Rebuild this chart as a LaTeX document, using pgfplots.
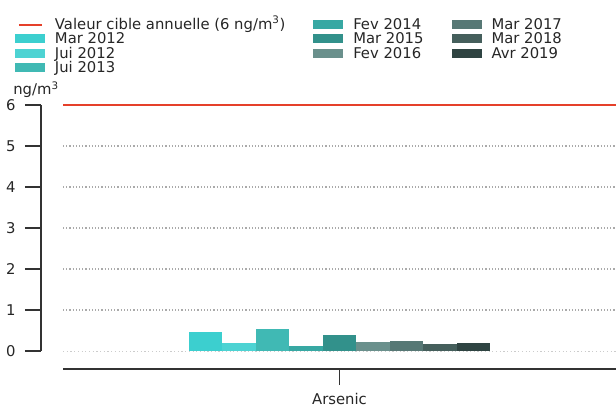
\documentclass[border=0pt]{standalone}
\usepackage{fontspec}
\setmainfont{DejaVu Sans}
\usepackage{pgfplots}
\pgfplotsset{compat=1.18}

\definecolor{axgray}{HTML}{333333}
\definecolor{txtgray}{HTML}{262626}
\definecolor{gridgray}{HTML}{AAAAAA}
\definecolor{cible}{HTML}{E5402A}
\definecolor{c1}{HTML}{3CCFCF}
\definecolor{c2}{HTML}{4DD3D3}
\definecolor{c3}{HTML}{40B9B4}
\definecolor{c4}{HTML}{37A8A3}
\definecolor{c5}{HTML}{32918B}
\definecolor{c6}{HTML}{6A908C}
\definecolor{c7}{HTML}{577875}
\definecolor{c8}{HTML}{455F5C}
\definecolor{c9}{HTML}{2F4442}

\pgfplotsset{
  boxleg/.style={legend image code/.code={
    \fill[##1, draw=none] (0pt,-3.5pt) rectangle (30pt,5.5pt);}},
  lineleg/.style={legend image code/.code={
    \draw[##1] (4pt,0pt) -- (27pt,0pt);}},
}

\begin{document}
\begin{tikzpicture}[x=1pt,y=1pt,font=\fontsize{14.8}{17}\selectfont]
\useasboundingbox (0,0) rectangle (616,408);

% frame: x axis, grid, target line
\begin{axis}[
  at={(63pt,39pt)}, anchor=south west,
  scale only axis, width=553pt, height=264pt,
  xmin=-1, xmax=1, ymin=-0.439, ymax=6,
  clip=false,
  axis x line*=bottom, axis y line=none,
  x axis line style={line width=1.5pt, color=axgray},
  xtick={0}, xticklabels={Arsenic},
  tick align=outside, major tick length=16pt,
  xtick style={line width=1.5pt, color=axgray},
  xticklabel style={text=txtgray, yshift=-5pt},
]
\addplot[gridgray!60, line width=1pt, dash pattern=on 1.2pt off 2.5pt] coordinates {(-1,0) (1,0)};
\addplot[gridgray, line width=1.2pt, dash pattern=on 1.2pt off 2pt] coordinates {(-1,1) (1,1)};
\addplot[gridgray, line width=1.2pt, dash pattern=on 1.2pt off 2pt] coordinates {(-1,2) (1,2)};
\addplot[gridgray, line width=1.2pt, dash pattern=on 1.2pt off 2pt] coordinates {(-1,3) (1,3)};
\addplot[gridgray, line width=1.2pt, dash pattern=on 1.2pt off 2pt] coordinates {(-1,4) (1,4)};
\addplot[gridgray, line width=1.2pt, dash pattern=on 1.2pt off 2pt] coordinates {(-1,5) (1,5)};
\addplot[cible, line width=1.5pt] coordinates {(-1,6) (1,6)};
\end{axis}

% bars
\begin{axis}[
  at={(63pt,39pt)}, anchor=south west,
  scale only axis, width=553pt, height=264pt,
  xmin=-1, xmax=1, ymin=-0.439, ymax=6,
  hide axis,
  ybar=0pt, bar width=33.5pt,
]
\addplot[fill=c1, draw=none] coordinates {(0,0.46)};
\addplot[fill=c2, draw=none] coordinates {(0,0.195)};
\addplot[fill=c3, draw=none] coordinates {(0,0.54)};
\addplot[fill=c4, draw=none] coordinates {(0,0.13)};
\addplot[fill=c5, draw=none] coordinates {(0,0.38)};
\addplot[fill=c6, draw=none] coordinates {(0,0.22)};
\addplot[fill=c7, draw=none] coordinates {(0,0.25)};
\addplot[fill=c8, draw=none] coordinates {(0,0.18)};
\addplot[fill=c9, draw=none] coordinates {(0,0.19)};
\end{axis}

% offset y axis
\begin{axis}[
  at={(41pt,57pt)}, anchor=south west,
  scale only axis, width=10pt, height=246pt,
  xmin=0, xmax=1, ymin=0, ymax=6,
  clip=false,
  axis y line*=left, axis x line=none,
  y axis line style={line width=1.5pt, color=axgray},
  ytick={0,1,2,3,4,5,6},
  tick align=outside, major tick length=16pt,
  ytick style={line width=1.5pt, color=axgray},
  yticklabel style={text=txtgray, xshift=-6pt},
  /pgf/number format/assume math mode=true,
]
\node[text=txtgray] at (rel axis cs:0,1) [xshift=-5pt, yshift=15.5pt] {ng/m\textsuperscript{3}};
\end{axis}

% legend
\begin{axis}[
  at={(0pt,0pt)}, anchor=south west,
  scale only axis, width=616pt, height=408pt,
  xmin=0, xmax=1, ymin=0, ymax=1,
  hide axis,
  legend columns=3,
  legend cell align=left,
  legend style={
    at={(15/616,389.8/408)}, anchor=north west,
    draw=none, fill=none, inner sep=0pt, outer sep=0pt,
    column sep=10pt, row sep=0.5pt,
    nodes={inner sep=0pt, text height=11pt, text depth=3pt, text=txtgray},
    /tikz/every even column/.append style={column sep=28pt},
  },
]
\addlegendimage{lineleg, cible, line width=1.5pt}
\addlegendentry{Valeur cible annuelle (6 ng/m\textsuperscript{3})}
\addlegendimage{boxleg, fill=c4}
\addlegendentry{Fev 2014}
\addlegendimage{boxleg, fill=c7}
\addlegendentry{Mar 2017}
\addlegendimage{boxleg, fill=c1}
\addlegendentry{Mar 2012}
\addlegendimage{boxleg, fill=c5}
\addlegendentry{Mar 2015}
\addlegendimage{boxleg, fill=c8}
\addlegendentry{Mar 2018}
\addlegendimage{boxleg, fill=c2}
\addlegendentry{Jui 2012}
\addlegendimage{boxleg, fill=c6}
\addlegendentry{Fev 2016}
\addlegendimage{boxleg, fill=c9}
\addlegendentry{Avr 2019}
\addlegendimage{boxleg, fill=c3}
\addlegendentry{Jui 2013}
\end{axis}
\end{tikzpicture}
\end{document}
